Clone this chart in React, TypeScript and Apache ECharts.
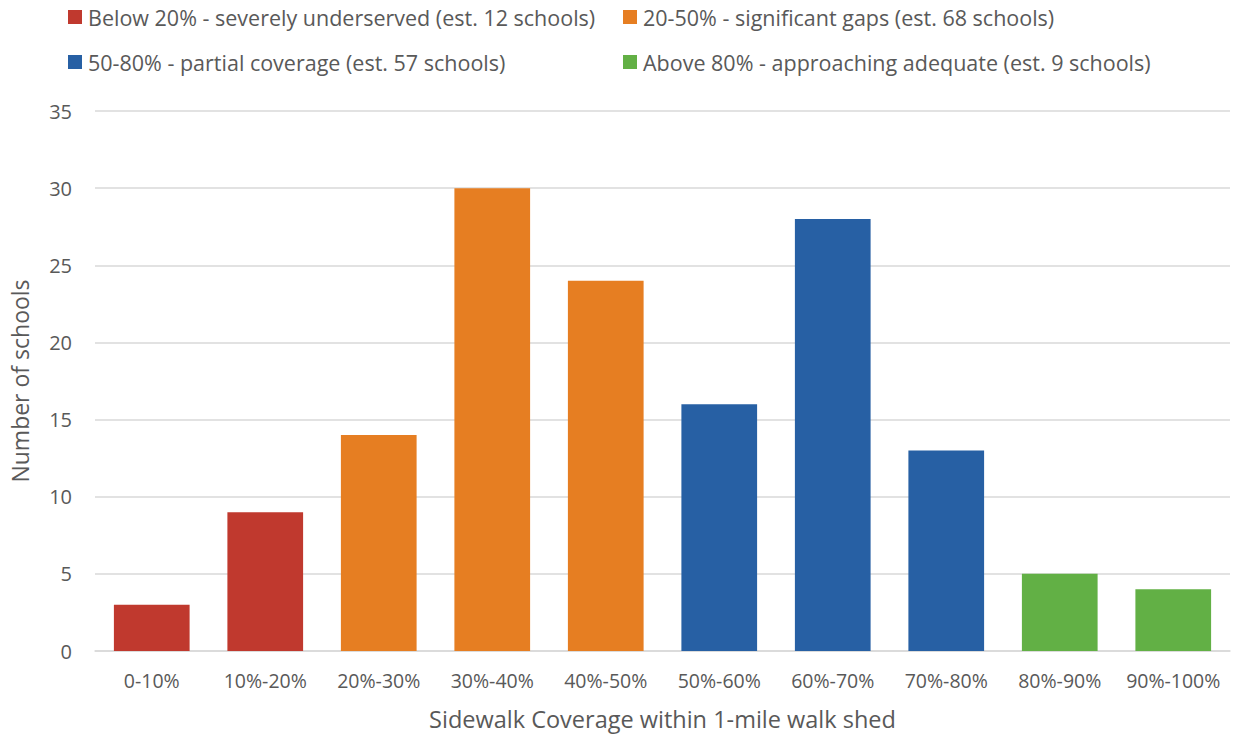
import React, { useEffect, useRef } from "react";
import * as echarts from "echarts";

const categories = ["0-10%", "10%-20%", "20%-30%", "30%-40%", "40%-50%", "50%-60%", "60%-70%", "70%-80%", "80%-90%", "90%-100%"];
const counts = [3, 9, 14, 30, 24, 16, 28, 13, 5, 4];
const groupNames = [
  "Below 20% - severely underserved (est. 12 schools)",
  "20-50% - significant gaps (est. 68 schools)",
  "50-80% - partial coverage (est. 57 schools)",
  "Above 80% - approaching adequate (est. 9 schools)",
];
const groupOfCategory = [0, 0, 1, 1, 1, 2, 2, 2, 3, 3];
const groupColors = ["#C0392E", "#E67E22", "#2760A4", "#62B045"];
const yTicks = [0, 5, 10, 15, 20, 25, 30, 35];

const FONT = "'Open Sans', 'Noto Sans', sans-serif";
const TEXT = "#595959";

export default function App() {
  const ref = useRef<HTMLDivElement>(null);
  useEffect(() => {
    const chart = echarts.init(ref.current!, null, { renderer: "svg" });
    const legendPos = [
      { left: 68, top: 6 },
      { left: 623, top: 6 },
      { left: 68, top: 51 },
      { left: 623, top: 51 },
    ];
    chart.setOption({
      animation: false,
      textStyle: { fontFamily: FONT },
      legend: groupNames.map((n, i) => ({
        data: [n],
        left: legendPos[i].left,
        top: legendPos[i].top,
        icon: "rect",
        itemWidth: 14,
        itemHeight: 14,
        itemGap: 0,
        padding: 0,
        textStyle: { color: TEXT, fontSize: 21.5, fontFamily: FONT, padding: [0, 0, 0, 1] },
      })),
      grid: { left: 93, right: 12, top: 111, bottom: 85 },
      xAxis: {
        type: "category",
        data: categories,
        axisLine: { show: true, lineStyle: { color: "#D9D9D9", width: 1.5 } },
        axisTick: { show: false },
        axisLabel: { color: TEXT, fontSize: 19.5, margin: 19, fontFamily: FONT, interval: 0, hideOverlap: false },
        name: "Sidewalk Coverage within 1-mile walk shed",
        nameLocation: "middle",
        nameGap: 56,
        nameTextStyle: { color: TEXT, fontSize: 23.5, fontFamily: FONT },
      },
      yAxis: {
        type: "value",
        min: yTicks[0],
        max: yTicks[yTicks.length - 1],
        interval: 5,
        axisLine: { show: false },
        axisTick: { show: false },
        splitLine: { lineStyle: { color: "#D9D9D9", width: 1.5 } },
        axisLabel: { color: TEXT, fontSize: 20, margin: 23, fontFamily: FONT },
        name: "Number of schools",
        nameLocation: "middle",
        nameGap: 64,
        nameTextStyle: { color: TEXT, fontSize: 23, fontFamily: FONT },
      },
      series: groupNames.map((n, g) => ({
        name: n,
        type: "bar",
        barWidth: "66.7%",
        barGap: "-100%",
        itemStyle: { color: groupColors[g] },
        data: counts.map((v, i) => (groupOfCategory[i] === g ? v : null)),
      })),
    });
    return () => chart.dispose();
  }, []);
  return (
    <div
      ref={ref}
      style={{ position: "fixed", left: 0, top: 0, width: 1242, height: 736, background: "#fff" }}
    />
  );
}
